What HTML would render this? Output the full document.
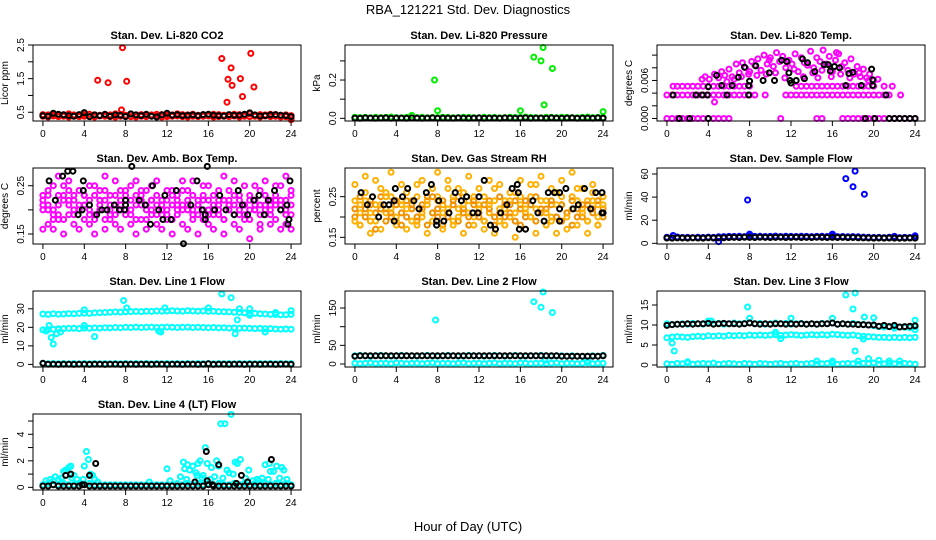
<!DOCTYPE html>
<html><head><meta charset="utf-8">
<style>
html,body{margin:0;padding:0;background:#fff;}
svg{display:block;font-family:"Liberation Sans",sans-serif;}
</style></head>
<body>
<svg id="chart" width="936" height="540" viewBox="0 0 936 540" xmlns="http://www.w3.org/2000/svg">
<text x="468" y="14" text-anchor="middle" font-size="13">RBA_121221  Std. Dev. Diagnostics</text>
<text x="468" y="531" text-anchor="middle" font-size="13">Hour of Day (UTC)</text>
</svg>
<script>
const H=[0,0.5,1,1.5,2,2.5,3,3.5,4,4.5,5,5.5,6,6.5,7,7.5,8,8.5,9,9.5,10,10.5,11,11.5,12,12.5,13,13.5,14,14.5,15,15.5,16,16.5,17,17.5,18,18.5,19,19.5,20,20.5,21,21.5,22,22.5,23,23.5,24];
const xTicks=[0,4,8,12,16,20,24];
const xTickLabels=["0","4","8","12","16","20","24"];

// Panel 1 CO2
const co2Red1=[0.43,0.42,0.44,0.41,0.43,0.45,0.42,0.40,0.43,0.44,0.42,0.41,0.43,0.42,0.45,0.43,0.41,0.44,0.42,0.43,0.40,0.42,0.44,0.43,0.41,0.42,0.45,0.43,0.42,0.44,0.41,0.43,0.42,0.44,0.43,0.41,0.42,0.44,0.43,0.42,0.45,0.41,0.43,0.42,0.44,0.43,0.41,0.42,0.40];
const co2Red2=[0.38,0.36,0.39,0.37,0.38,0.36,0.39,0.37,0.38,0.37,0.36,0.39,0.38,0.37,0.36,0.38,0.39,0.37,0.36,0.38,0.37,0.39,0.38,0.36,0.37,0.38,0.39,0.37,0.36,0.38,0.37,0.38,0.39,0.36,0.37,0.38,0.37,0.39,0.36,0.38,0.37,0.38,0.36,0.39,0.37,0.38,0.36,0.37,0.35];
const co2Black=[0.40,0.38,0.47,0.44,0.42,0.40,0.38,0.43,0.49,0.37,0.42,0.40,0.44,0.38,0.42,0.41,0.37,0.45,0.42,0.40,0.44,0.38,0.36,0.42,0.47,0.41,0.43,0.40,0.41,0.42,0.40,0.43,0.44,0.41,0.40,0.39,0.43,0.41,0.41,0.44,0.48,0.42,0.39,0.40,0.42,0.43,0.41,0.40,0.37];
const co2OutX=[5.3,6.3,7.7,8.1,7.6,17.3,18.2,17.9,18.3,19.1,20.1,20.4,19.3,17.8,24];
const co2OutY=[1.45,1.38,2.42,1.42,0.57,2.1,1.82,1.48,1.3,1.5,2.25,1.25,0.97,0.8,0.28];

// Panel 2 Pressure
const presGreen=[0.006,0.004,0.005,0.003,0.006,0.004,0.005,0.007,0.004,0.003,0.005,0.015,0.004,0.006,0.003,0.005,0.004,0.006,0.005,0.003,0.004,0.006,0.005,0.004,0.003,0.006,0.004,0.005,0.003,0.004,0.006,0.005,0.004,0.007,0.005,0.004,0.003,0.006,0.005,0.004,0.006,0.005,0.004,0.003,0.005,0.007,0.004,0.005,0.004];
const presBlack=[0.001,0.000,0.002,0.001,0.000,0.001,0.002,0.000,0.001,0.001,0.000,0.002,0.001,0.000,0.001,0.002,0.000,0.001,0.001,0.000,0.002,0.001,0.000,0.001,0.002,0.000,0.001,0.001,0.000,0.002,0.001,0.000,0.001,0.002,0.000,0.001,0.001,0.000,0.002,0.001,0.000,0.001,0.002,0.000,0.001,0.001,0.000,0.002,0.001];
const presOutX=[7.7,8.0,16,17.3,18.2,18.0,19.1,18.3,24];
const presOutY=[0.2,0.04,0.04,0.32,0.37,0.3,0.26,0.07,0.035];

// Panel 3 Temp
const tempZeroX=[0,0.5,1,1.5,2,2.5,3,3.5,4,4.5,5,5.5,6,11,14.5,15,17,17.5,18,18.5,19,19.5,20,20.5,21,21.5,22,22.5,23,23.5,24];
const tempLowX=[0,0.5,1,1.5,2,2.5,3,3.5,4,4.5,5,5.5,6,6.5,7,7.5,8,8.5,9.5,11.5,12,12.5,13,13.5,14,14.5,15,15.5,16,16.5,17,17.5,18,18.5,19,19.5,20,20.5,21,21.5,22.6];
const tempMidX=[0.6,1,1.5,2,2.5,3,3.5,4,4.5,5,5.5,6,6.5,7,7.5,8,12.5,13,13.5,14,14.5,15,15.5,16,16.5,17,17.5,18,18.5,19,19.5,20,21,21.8];
const tempCloudX=[3.4,3.7,4.1,4.6,5,5.3,5.6,6,6.3,6.7,7,7.3,7.6,7.9,8.2,8.5,8.8,9.1,9.4,9.7,10,10.3,10.6,10.9,11.2,11.5,11.8,12.1,12.4,12.7,13,13.3,13.6,13.9,14.2,14.5,14.8,15.1,15.4,15.7,16,16.3,16.6,16.9,17.2,17.5,17.8,18.1,18.4,18.7,19,19.3,19.6,20,20.4,6.5,7.2,8,8.7,9.6,10.5,11.4,12.3,13.2,14.1,15,15.9,16.8,17.7,18.6,19.5,4.6,5.8,9.9,14.6,16.4];
const tempCloudY=[0.0062,0.0066,0.0062,0.0070,0.0064,0.0074,0.0068,0.0078,0.0066,0.0086,0.0072,0.0088,0.0080,0.0070,0.0090,0.0084,0.0094,0.0076,0.0100,0.0086,0.0096,0.0082,0.0104,0.0090,0.0098,0.0080,0.0092,0.0086,0.0102,0.0074,0.0096,0.0088,0.0084,0.0106,0.0080,0.0096,0.0090,0.0108,0.0086,0.0098,0.0074,0.0092,0.0102,0.0082,0.0088,0.0076,0.0094,0.0070,0.0082,0.0066,0.0078,0.0064,0.0070,0.0060,0.0062,0.0062,0.0066,0.0074,0.0068,0.0070,0.0072,0.0064,0.0078,0.0066,0.0072,0.0076,0.0066,0.0070,0.0064,0.0072,0.0060,0.0026,0.0058,0.0092,0.0064,0.0104];
const tempBlackX=[0.6,1.2,2.2,2.8,3.4,3.9,4,4,4.8,5.3,5.8,6.3,6.9,7.5,7.9,7.9,8.0,8.6,9.3,9.9,10.4,11.1,11.6,11.8,11.9,12,12.5,13.1,13.6,13.3,14.3,15.2,15.6,15.8,16.2,16.7,17.3,17.6,18,18.8,19.2,19.8,19.9,19.9,20.1,21.2,21.5,22,22.5,23,23.5,24];
const tempBlackY=[0.0037,0,0,0.0037,0.0037,0.0037,0.005,0,0.0068,0.0052,0.0037,0.0052,0.0065,0.0081,0.0052,0.0037,0.0059,0.0083,0.006,0.0072,0.006,0.0092,0.009,0.0072,0.006,0.0056,0.006,0.0094,0.0088,0.0063,0.0074,0.0085,0.0085,0.0075,0.0082,0.008,0.0052,0.0071,0.0073,0.0052,0,0.0078,0.0061,0.0052,0,0.0037,0,0,0,0,0,0];

// Panel 4 Amb box temp
const ambA=[0.23,0.21,0.25,0.19,0.22,0.26,0.20,0.24,0.18,0.22,0.25,0.21,0.27,0.19,0.23,0.20,0.24,0.22,0.26,0.18,0.21,0.25,0.23,0.19,0.22,0.24,0.20,0.26,0.21,0.23,0.19,0.25,0.22,0.20,0.24,0.27,0.21,0.23,0.19,0.25,0.22,0.20,0.24,0.26,0.21,0.23,0.25,0.22,0.24];
const ambB=[0.20,0.17,0.19,0.23,0.18,0.21,0.17,0.20,0.23,0.17,0.19,0.22,0.18,0.21,0.17,0.24,0.19,0.17,0.21,0.23,0.18,0.20,0.17,0.22,0.19,0.18,0.23,0.17,0.20,0.19,0.22,0.18,0.17,0.23,0.19,0.18,0.21,0.17,0.22,0.19,0.18,0.20,0.17,0.19,0.22,0.18,0.20,0.17,0.19];
const ambC=[0.16,0.24,0.16,0.27,0.15,0.24,0.23,0.16,0.21,0.25,0.15,0.24,0.16,0.23,0.26,0.16,0.22,0.25,0.15,0.24,0.16,0.22,0.26,0.16,0.24,0.15,0.21,0.24,0.16,0.26,0.15,0.20,0.25,0.16,0.22,0.15,0.24,0.26,0.16,0.21,0.14,0.25,0.16,0.21,0.17,0.25,0.16,0.27,0.16];
const ambD=[0.22,0.20,0.18,0.21,0.23,0.19,0.22,0.20,0.21,0.19,0.23,0.20,0.22,0.18,0.21,0.22,0.20,0.19,0.23,0.21,0.20,0.22,0.19,0.21,0.20,0.23,0.19,0.21,0.22,0.20,0.21,0.23,0.20,0.19,0.21,0.22,0.20,0.19,0.23,0.21,0.20,0.22,0.21,0.20,0.19,0.22,0.21,0.20,0.23];
const ambE=[0.21,0.23,0.20,0.18,0.25,0.22,0.19,0.21,0.23,0.20,0.18,0.22,0.24,0.20,0.19,0.21,0.23,0.20,0.18,0.22,0.24,0.19,0.21,0.20,0.18,0.21,0.22,0.20,0.24,0.18,0.21,0.22,0.19,0.21,0.20,0.18,0.22,0.21,0.20,0.18,0.23,0.21,0.19,0.23,0.20,0.21,0.22,0.19,0.21];
const ambBlackX=[0.6,1.2,1.9,2.4,2.9,3.4,3.8,3.9,3.9,4.5,5.2,5.7,6.2,6.9,7.4,7.9,8,8,8.6,9.3,9.9,10.4,10.6,11.2,11.6,11.8,12.4,12.9,13.6,14.3,14.9,15.4,15.7,15.7,15.9,16.6,17.1,17.7,18.5,18.9,19.3,19.8,20.4,20.9,21.4,21.8,22.4,23,23.6,23.8,23.7,23.9];
const ambBlackY=[0.26,0.22,0.27,0.28,0.28,0.19,0.20,0.24,0.26,0.21,0.19,0.20,0.20,0.21,0.20,0.20,0.21,0.22,0.29,0.22,0.21,0.17,0.25,0.20,0.18,0.23,0.18,0.24,0.13,0.21,0.26,0.20,0.18,0.19,0.29,0.20,0.23,0.20,0.19,0.24,0.21,0.19,0.22,0.23,0.19,0.22,0.24,0.20,0.21,0.18,0.17,0.26];

// Panel 5 Gas stream RH
const rhA=[0.24,0.21,0.26,0.19,0.23,0.27,0.21,0.25,0.18,0.23,0.26,0.22,0.28,0.20,0.24,0.21,0.25,0.23,0.27,0.19,0.22,0.26,0.24,0.20,0.23,0.25,0.21,0.27,0.22,0.24,0.20,0.26,0.23,0.21,0.25,0.28,0.22,0.24,0.20,0.26,0.23,0.21,0.25,0.27,0.22,0.24,0.26,0.23,0.25];
const rhB=[0.20,0.18,0.22,0.24,0.17,0.22,0.19,0.21,0.24,0.18,0.20,0.23,0.19,0.22,0.18,0.25,0.20,0.18,0.22,0.24,0.19,0.21,0.18,0.23,0.20,0.19,0.24,0.18,0.21,0.20,0.23,0.19,0.18,0.24,0.20,0.19,0.22,0.18,0.23,0.20,0.19,0.21,0.18,0.20,0.23,0.19,0.21,0.18,0.20];
const rhC=[0.28,0.18,0.30,0.16,0.29,0.17,0.26,0.31,0.19,0.28,0.17,0.24,0.18,0.29,0.16,0.27,0.31,0.17,0.29,0.18,0.27,0.16,0.30,0.18,0.27,0.17,0.29,0.16,0.28,0.18,0.26,0.15,0.29,0.17,0.28,0.16,0.30,0.18,0.27,0.16,0.29,0.17,0.31,0.18,0.27,0.16,0.28,0.18,0.25];
const rhD=[0.22,0.25,0.20,0.23,0.21,0.25,0.22,0.20,0.23,0.21,0.24,0.22,0.20,0.23,0.25,0.21,0.22,0.24,0.20,0.23,0.25,0.22,0.20,0.24,0.21,0.23,0.22,0.20,0.25,0.23,0.21,0.24,0.22,0.20,0.23,0.25,0.21,0.22,0.24,0.20,0.23,0.21,0.24,0.22,0.20,0.23,0.22,0.24,0.22];
const rhE=[0.19,0.23,0.24,0.21,0.19,0.23,0.25,0.22,0.20,0.24,0.22,0.19,0.25,0.21,0.23,0.19,0.24,0.21,0.22,0.25,0.20,0.23,0.21,0.25,0.22,0.19,0.23,0.24,0.19,0.22,0.24,0.21,0.25,0.22,0.20,0.22,0.24,0.21,0.19,0.23,0.25,0.20,0.22,0.24,0.21,0.19,0.24,0.20,0.23];
const rhBlackX=[0.6,1.2,1.7,2.3,2.8,3.3,3.8,3.9,3.8,4.6,5.1,5.7,6.2,6.9,7.4,7.9,7.9,8.1,8.6,9.1,9.7,10.3,10.8,11.4,11.9,12,12.5,13.1,13.6,14.1,14.7,15.2,15.8,15.7,15.9,16.5,17.2,17.7,18.3,18.7,19.3,19.8,19.8,19.8,20.4,21.1,21.6,22.2,22.8,23.3,23.9,23.9,24];
const rhBlackY=[0.26,0.23,0.25,0.20,0.23,0.23,0.24,0.27,0.19,0.25,0.27,0.24,0.22,0.26,0.28,0.18,0.19,0.24,0.19,0.21,0.26,0.24,0.25,0.21,0.21,0.25,0.29,0.18,0.17,0.21,0.23,0.27,0.26,0.28,0.17,0.17,0.24,0.21,0.19,0.26,0.26,0.26,0.22,0.19,0.27,0.22,0.23,0.27,0.22,0.26,0.26,0.21,0.21];

// Panel 6 Sample flow
const sampleBlue=[5.2,4.8,5.5,5.0,5.1,4.9,5.3,5.0,5.4,5.1,5.6,5.8,6.0,5.9,6.1,5.8,6.2,6.0,6.1,5.9,6.0,6.2,5.9,6.1,6.0,5.9,6.1,6.0,5.8,6.0,6.1,5.9,6.3,5.8,5.9,5.7,5.8,5.6,5.4,5.2,5.0,5.1,4.9,5.2,5.0,4.9,5.1,5.0,5.6];
const sampleBlack=[4.6,4.5,4.7,4.6,4.5,4.7,4.6,4.5,4.8,4.6,4.7,4.8,5.0,5.1,5.0,5.2,5.1,5.0,5.2,5.1,5.0,5.1,5.2,5.0,5.1,5.2,5.0,5.1,5.0,5.2,5.1,5.0,5.1,5.0,5.1,4.9,5.0,4.8,4.7,4.6,4.5,4.6,4.5,4.6,4.5,4.4,4.5,4.6,4.5];
const sampleOutX=[7.8,8.0,17.3,18.2,18.0,19.1,5.0,16,0.6,24,22];
const sampleOutY=[37.5,8,56,62.5,49,42.5,1.5,8,6.8,6.5,6];

// Panel 7 Line 1 flow
const line1A=[27.2,27.0,27.3,27.1,27.2,27.4,27.3,27.5,27.6,27.5,27.8,27.9,28.0,28.1,28.3,28.2,28.4,28.5,28.6,28.5,28.7,28.6,28.8,28.7,28.8,28.9,28.8,28.7,28.9,28.8,28.7,28.8,28.6,28.7,28.5,28.4,28.3,28.1,28.0,27.8,27.6,27.5,27.3,27.2,27.0,26.9,26.7,26.8,27.0];
const line1B=[18.6,18.8,19.0,19.2,19.3,19.4,19.5,19.3,19.6,19.5,19.7,19.6,19.8,19.7,19.9,19.8,20.0,19.9,20.1,19.9,20.0,20.1,19.9,20.0,20.1,20.0,19.9,20.0,20.1,19.9,20.0,19.9,19.8,19.9,19.7,19.8,19.6,19.7,19.5,19.6,19.4,19.3,19.4,19.2,19.3,19.1,19.0,19.1,19.0];
const line1Zero=[0.5,0.4,0.5,0.4,0.5,0.4,0.5,0.4,0.5,0.4,0.5,0.4,0.5,0.4,0.5,0.4,0.5,0.4,0.5,0.4,0.5,0.4,0.5,0.4,0.5,0.4,0.5,0.4,0.5,0.4,0.5,0.4,0.5,0.4,0.5,0.4,0.5,0.4,0.5,0.4,0.5,0.4,0.5,0.4,0.5,0.4,0.5,0.4,0.5];
const line1Black=[0.6,0.1,0.1,0.0,0.1,0.1,0.0,0.1,0.1,0.0,0.1,0.1,0.0,0.1,0.1,0.0,0.1,0.1,0.0,0.1,0.1,0.0,0.1,0.1,0.0,0.1,0.1,0.0,0.1,0.1,0.0,0.1,0.4,0.0,0.1,0.1,0.0,0.1,0.1,0.0,0.1,0.1,0.0,0.1,0.1,0.0,0.1,0.1,0.0];
const line1OutX=[0.3,0.6,0.8,1.0,1.3,1.5,1.7,4,4,5,7.8,8.1,11.8,11.2,11.4,16,17.3,18.2,18.6,18.8,19,20,20,21.5,22.5,24];
const line1OutY=[18,21,14.5,11,16.5,19,17.5,29.5,21,15,34.5,30.5,30.5,18,17.5,30.5,38,36,16.5,24,30,30,26.5,17.5,28,29];

// Panel 8 Line 2 flow
const line2Top=[22,23,22,21,22,23,22,21,22,23,22,22,21,22,23,22,21,22,23,22,21,22,23,22,22,21,22,23,22,21,22,23,22,21,22,22,23,22,21,22,22,21,22,21,20,21,22,21,23];
const line2Black=[21,22,22,22,22,22,22,22,22,22,22,22,22,22,22,22,22,22,22,22,22,22,22,22,22,22,22,22,22,22,22,22,22,22,22,22,22,22,22,22,21,21,21,21,21,21,21,21,22];
const line2Low=[2,1,2,3,1,2,2,1,3,2,1,2,2,1,2,3,1,2,2,1,2,3,1,2,2,1,2,3,1,2,2,1,3,2,1,2,2,1,2,3,1,2,2,1,2,3,1,2,2];
const line2OutX=[7.8,17.3,18.0,18.2,19.1,18.4,22.5];
const line2OutY=[118,167,152,193,138,10,8];

// Panel 9 Line 3 flow
const line3Top=[10.3,10.1,10.2,10.3,10.2,10.4,10.3,10.2,10.5,10.3,10.4,10.2,10.3,10.5,10.3,10.4,10.6,10.3,10.4,10.2,10.3,10.5,10.3,10.4,10.2,10.3,10.4,10.2,10.3,10.2,10.4,10.3,10.5,10.2,10.3,10.2,10.4,10.2,10.1,10.0,9.8,9.6,9.5,9.6,9.4,9.5,9.4,9.3,9.6];
const line3Black=[9.9,10.1,10.2,10.2,10.3,10.2,10.3,10.3,10.4,10.2,10.3,10.4,10.3,10.3,10.2,10.3,10.5,10.3,10.2,10.3,10.2,10.3,10.3,10.2,10.3,10.2,10.3,10.2,10.3,10.2,10.3,10.3,10.5,10.2,10.3,10.2,10.2,10.1,10.1,10.0,10.0,9.7,9.9,9.6,9.9,9.5,9.6,9.7,9.8];
const line3Mid=[6.8,7.0,7.1,7.0,6.9,7.1,7.2,7.1,7.3,7.2,7.3,7.2,7.4,7.3,7.4,7.3,7.5,7.4,7.5,7.4,7.5,7.6,7.4,7.5,7.6,7.5,7.4,7.5,7.6,7.5,7.6,7.5,7.7,7.6,7.5,7.4,7.5,7.3,7.2,7.1,7.0,6.9,6.9,6.8,6.9,6.8,6.9,6.8,6.9];
const line3Low=[0.3,0.2,0.4,0.3,0.5,0.2,0.3,0.4,0.3,0.5,0.2,0.3,0.4,0.3,0.2,0.4,0.3,0.2,0.4,0.3,0.2,0.3,0.4,0.2,0.3,0.4,0.2,0.3,0.4,0.2,0.3,0.4,0.5,0.2,0.3,0.4,0.3,0.2,0.4,0.3,0.5,0.2,0.3,0.4,0.3,0.2,0.4,0.3,0.2];
const line3OutX=[0.5,0.7,4,4.3,7.8,8.0,12,16,17.3,18,18.2,18.2,19.1,20,19,20.5,24,22,2,14.5,16,18.5,19.5,21.5,22.5,24,10.5,11];
const line3OutY=[5.5,3.5,11,11,14.5,11.7,11.7,11.7,17.5,14,18,3.5,12,11.8,6.5,1.2,11.2,9.2,0.8,1.0,1.0,1.0,1.6,1.0,1.0,8.8,8.2,6.6];

// Panel 10 Line 4 flow
const line4Base=[0.2,0.3,0.2,0.2,0.3,0.2,0.2,0.3,0.2,0.3,0.2,0.2,0.2,0.2,0.2,0.2,0.2,0.2,0.2,0.2,0.2,0.2,0.2,0.2,0.2,0.2,0.3,0.2,0.3,0.2,0.3,0.2,0.3,0.2,0.3,0.2,0.2,0.3,0.2,0.3,0.2,0.3,0.2,0.3,0.2,0.3,0.2,0.3,0.2];
const line4ExtraX=[0.3,0.7,1,1.5,1.8,2,2.2,2.5,2.7,3,3.3,3.7,4,4.2,4.4,4.6,4.8,5,5.3,10.3,12,12.3,13.3,13.6,13.7,14,14.2,14.5,14.8,15,15.2,15.5,15.7,15.9,16.3,16.6,16.8,17,17.2,17.6,17.8,18,18.2,18.4,18.6,18.8,19.1,19.6,19.9,20.3,20.7,21.2,21.5,21.9,22,22.3,22.6,22.9,23.1,23.3,23.6,16.2,19.5,1.2,2.8,3.9,13.9,14.9,15.4,17.4,20.9,21.8];
const line4ExtraY=[0.5,0.6,0.5,0.6,0.7,1.2,1.3,1.5,1.6,0.9,0.6,0.3,1.6,2.7,2.1,1.0,0.9,0.6,0.4,0.4,1.4,0.5,0.8,1.9,1.4,1.7,1.3,1.6,1.1,1.8,2.0,0.9,3.0,1.8,1.5,0.8,2.0,1.6,4.8,4.8,1.3,1.1,5.5,1.0,1.9,1.8,2.1,0.7,1.3,0.5,0.6,0.7,1.7,1.8,1.2,1.2,1.6,0.7,1.5,1.3,0.6,0.6,0.3,0.8,0.7,0.6,0.6,0.9,0.7,0.7,0.5,0.6];
const line4Black=[0.1,0.1,0.2,0.1,0.1,0.1,0.1,0.1,0.2,0.1,0.1,0.1,0.1,0.1,0.1,0.1,0.1,0.1,0.1,0.1,0.1,0.1,0.1,0.1,0.1,0.1,0.1,0.1,0.1,0.1,0.1,0.1,0.2,0.1,0.1,0.1,0.1,0.1,0.1,0.1,0.1,0.1,0.1,0.1,0.1,0.1,0.1,0.1,0.1];
const line4BlackX=[2.2,2.7,4.5,5.1,3.8,14.7,15.8,15.9,17,16.4,18.7,19.2,19.8,22.1];
const line4BlackY=[0.9,1.0,0.9,1.8,0.2,0.4,2.7,0.5,1.7,0.2,0.3,0.9,0.4,2.1];

const svg=document.getElementById('chart');
const NS='http://www.w3.org/2000/svg';
function mk(tag,attrs,parent){const e=document.createElementNS(NS,tag);for(const k in attrs)e.setAttribute(k,attrs[k]);parent.appendChild(e);return e;}

const colX=[33,345,657], rowY=[45,168,291,414], BW=268, BH=76;
const XMIN=-0.96, XMAX=24.96;

const panels=[
 {c:0,r:0,name:'co2',title:'Stan. Dev. Li-820 CO2',ylab:'Licor ppm',ymin:0.24,ymax:2.5,ticks:[0.5,1,1.5,2,2.5],labels:['0.5','','1.5','','2.5'],
  series:[[H,co2Red1,'#ff0000'],[H,co2Red2,'#ff0000'],[co2OutX,co2OutY,'#ff0000'],[H,co2Black,'#000000']]},
 {c:1,r:0,name:'pressure',title:'Stan. Dev. Li-820 Pressure',ylab:'kPa',ymin:-0.014,ymax:0.383,ticks:[0,0.1,0.2,0.3],labels:['0.0','','0.2',''],
  series:[[H,presGreen,'#00ee00'],[presOutX,presOutY,'#00ee00'],[H,presBlack,'#000000']]},
 {c:2,r:0,name:'temp',title:'Stan. Dev. Li-820 Temp.',ylab:'degrees C',ymin:-0.0004,ymax:0.0116,ticks:[0,0.002,0.004,0.006,0.008,0.010],labels:['0.000','','','0.006','',''],
  series:[[tempZeroX,tempZeroX.map(()=>0),'#ff00ff'],[tempLowX,tempLowX.map(()=>0.0037),'#ff00ff'],[tempMidX,tempMidX.map(()=>0.0051),'#ff00ff'],[tempCloudX,tempCloudY,'#ff00ff'],[tempBlackX,tempBlackY,'#000000']]},
 {c:0,r:1,name:'amb-box-temp',title:'Stan. Dev. Amb. Box Temp.',ylab:'degrees C',ymin:0.1293,ymax:0.2867,ticks:[0.15,0.2,0.25],labels:['0.15','','0.25'],
  series:[[H,ambA,'#ff00ff'],[H,ambB,'#ff00ff'],[H,ambC,'#ff00ff'],[H,ambD,'#ff00ff'],[H,ambE,'#ff00ff'],[ambBlackX,ambBlackY,'#000000']]},
 {c:1,r:1,name:'gas-stream-rh',title:'Stan. Dev. Gas Stream RH',ylab:'percent',ymin:0.1336,ymax:0.3205,ticks:[0.15,0.2,0.25],labels:['0.15','','0.25'],
  series:[[H,rhA,'#ffb000'],[H,rhB,'#f09000'],[H,rhC,'#ffb000'],[H,rhD,'#f09000'],[H,rhE,'#ffb000'],[rhBlackX,rhBlackY,'#000000']]},
 {c:2,r:1,name:'sample-flow',title:'Stan. Dev. Sample Flow',ylab:'ml/min',ymin:-0.6,ymax:65.2,ticks:[0,20,40,60],labels:['0','20','40','60'],
  series:[[H,sampleBlue,'#0000ff'],[sampleOutX,sampleOutY,'#0000ff'],[H,sampleBlack,'#000000']]},
 {c:0,r:2,name:'line1-flow',title:'Stan. Dev. Line 1 Flow',ylab:'ml/min',ymin:-1.4,ymax:39.6,ticks:[0,10,20,30],labels:['0','10','20','30'],
  series:[[H,line1A,'#00ffff'],[H,line1B,'#00ffff'],[H,line1Zero,'#00ffff'],[line1OutX,line1OutY,'#00ffff'],[H,line1Black,'#000000']]},
 {c:1,r:2,name:'line2-flow',title:'Stan. Dev. Line 2 Flow',ylab:'ml/min',ymin:-8,ymax:195.6,ticks:[0,50,100,150],labels:['0','50','','150'],
  series:[[H,line2Top,'#00ffff'],[H,line2Low,'#00ffff'],[line2OutX,line2OutY,'#00ffff'],[H,line2Black,'#000000']]},
 {c:2,r:2,name:'line3-flow',title:'Stan. Dev. Line 3 Flow',ylab:'ml/min',ymin:-0.5,ymax:18.5,ticks:[0,5,10,15],labels:['0','5','10','15'],
  series:[[H,line3Top,'#00ffff'],[H,line3Mid,'#00ffff'],[H,line3Low,'#00ffff'],[line3OutX,line3OutY,'#00ffff'],[H,line3Black,'#000000']]},
 {c:0,r:3,name:'line4-flow',title:'Stan. Dev. Line 4 (LT) Flow',ylab:'ml/min',ymin:-0.2,ymax:5.53,ticks:[0,1,2,3,4,5],labels:['0','','2','','4',''],
  series:[[H,line4Base,'#00ffff'],[line4ExtraX,line4ExtraY,'#00ffff'],[H,line4Black,'#000000'],[line4BlackX,line4BlackY,'#000000']]}
];

panels.forEach(p=>{
  const bx=colX[p.c], by=rowY[p.r];
  const X=h=>bx+(h-XMIN)/(XMAX-XMIN)*BW;
  const Y=v=>by+BH-(v-p.ymin)/(p.ymax-p.ymin)*BH;
  const g=mk('g',{},svg);
  
  
  const t=mk('text',{x:bx+BW/2,y:by-6,'text-anchor':'middle','font-size':'11','font-weight':'bold'},g);
  t.textContent=p.title;
  
  
  const yl=mk('text',{x:0,y:0,'text-anchor':'middle','font-size':'10',transform:`translate(${bx-25},${by+BH/2}) rotate(-90)`},g);
  yl.textContent=p.ylab;
  
  
  const pts=mk('g',{fill:'none','stroke-width':'2'},g);
  
  
  p.series.forEach(s=>{
    const xs=s[0], ys=s[1];
    for(let i=0;i<xs.length&&i<ys.length;i++){
      const c=mk('circle',{cx:X(xs[i]).toFixed(1),cy:Y(ys[i]).toFixed(1),r:'2.5',stroke:s[2]},pts);
      
      
    }
  });
  const box=mk('rect',{x:bx,y:by,width:BW,height:BH,fill:'none',stroke:'#000','stroke-width':'1'},g);
  
  
  const xa=mk('g',{},g);
  
  
  mk('line',{x1:X(xTicks[0]),x2:X(xTicks[xTicks.length-1]),y1:by+BH,y2:by+BH,stroke:'#000'},xa);
  xTicks.forEach((v,i)=>{
    mk('line',{x1:X(v),x2:X(v),y1:by+BH,y2:by+BH+5,stroke:'#000'},xa);
    const tl=mk('text',{x:X(v),y:by+BH+16,'text-anchor':'middle','font-size':'10'},xa);
    tl.textContent=xTickLabels[i];
    
    
  });
  const ya=mk('g',{},g);
  
  
  mk('line',{x1:bx,x2:bx,y1:Y(p.ticks[0]),y2:Y(p.ticks[p.ticks.length-1]),stroke:'#000'},ya);
  p.ticks.forEach((v,i)=>{
    mk('line',{x1:bx-5,x2:bx,y1:Y(v),y2:Y(v),stroke:'#000'},ya);
    if(p.labels[i]){
      const tl=mk('text',{x:0,y:0,'text-anchor':'middle','font-size':'10',transform:`translate(${bx-9},${Y(v)}) rotate(-90)`},ya);
      tl.textContent=p.labels[i];
      
      
    }
  });
});
</script>
</body></html>
